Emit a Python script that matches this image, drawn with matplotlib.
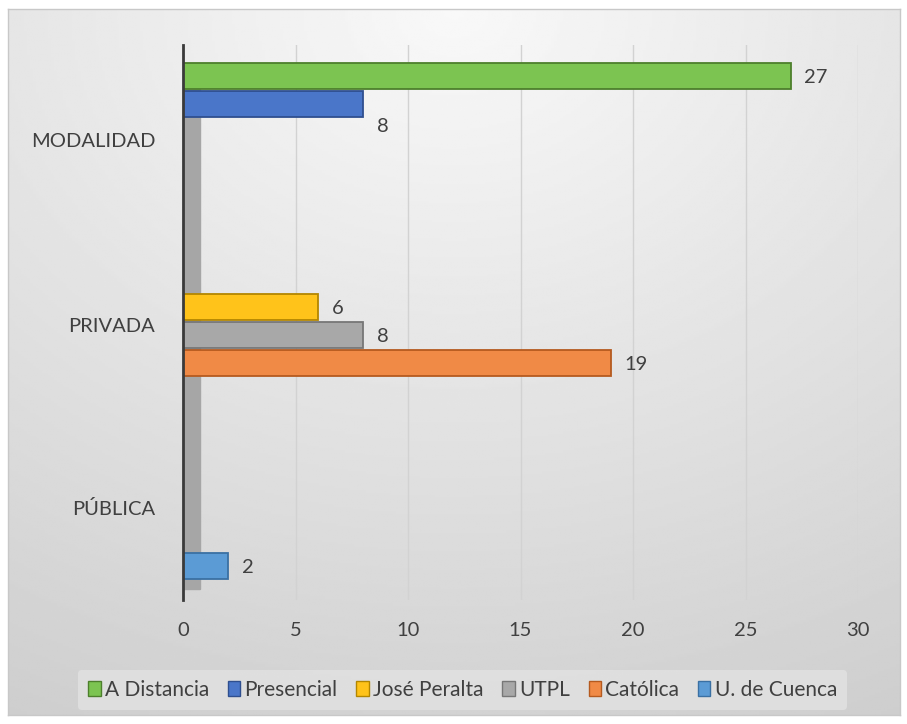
import numpy as np
import matplotlib.pyplot as plt
import matplotlib.transforms as mtransforms
from matplotlib.patches import Patch

plt.rcParams['font.family'] = ['Lato', 'DejaVu Sans']

categories = ["PÚBLICA", "PRIVADA", "MODALIDAD"]
series = ["A Distancia", "Presencial", "José Peralta", "UTPL", "Católica", "U. de Cuenca"]
# value of each series and the category it belongs to
values = [27, 8, 6, 8, 19, 2]
series_cat = ["MODALIDAD", "MODALIDAD", "PRIVADA", "PRIVADA", "PRIVADA", "PÚBLICA"]
colors = ["#7cc451", "#4a76c9", "#ffc31a", "#a8a8a8", "#f08a46", "#5b9bd5"]
edges = ["#4d7f2c", "#2f4f8f", "#b38600", "#777777", "#b55a1f", "#3a70a3"]
xticks = [0, 5, 10, 15, 20, 25, 30]

fig = plt.figure(figsize=(9.07, 7.24), dpi=100)

# gradient background of the chart area
bg = fig.add_axes([0.009, 0.012, 0.983, 0.975])
gx, gy = np.meshgrid(np.linspace(0, 1, 300), np.linspace(0, 1, 300))
dist = np.sqrt((gx - 0.5) ** 2 + gy ** 2)
bg.imshow(0.975 - 0.15 * dist, cmap="gray", vmin=0, vmax=1, aspect="auto",
          extent=[0, 1, 0, 1], origin="upper")
bg.set_xticks([])
bg.set_yticks([])
for s in bg.spines.values():
    s.set_color("#c8c8c8")
    s.set_linewidth(1)

ax = fig.add_axes([0.2018, 0.1713, 0.7442, 0.7665])
ax.patch.set_alpha(0)

n = len(series)
slot = 0.16
for i, (name, v, cat) in enumerate(zip(series, values, series_cat)):
    c = categories.index(cat)
    y = c + (n - 1) / 2 * slot - i * slot
    ax.barh(y, v, height=slot * 0.95, color=colors[i], edgecolor=edges[i],
            linewidth=1.3, zorder=3)
    ax.annotate(str(v), (v, y), xytext=(10, -1 if i != 1 else -16),
                textcoords="offset points", va="center", ha="left",
                fontsize=14.5, color="#404040", zorder=4)

# side wall of the 3D plot
ax.axvspan(0, 0.75, ymin=0.02, ymax=0.95, color="#a6a6a6", zorder=2)

ax.set_xlim(0, 30)
ax.set_ylim(-0.594, 2.577)
ax.set_xticks(xticks)
ax.set_yticks(range(len(categories)))
ax.set_yticklabels(categories)
ax.tick_params(length=0, labelsize=14.5, labelcolor="#404040")
ax.tick_params(axis="x", pad=16)
ax.tick_params(axis="y", pad=20)
# category labels sit a little off the bar groups in the 3D original
for lab, dy in zip(ax.get_yticklabels(), [-8, -3, 4]):
    lab.set_transform(lab.get_transform() +
                      mtransforms.ScaledTranslation(0, dy / 72, fig.dpi_scale_trans))
ax.grid(axis="x", color="#d2d2d2", linewidth=1, zorder=1)
for s in ["top", "right", "bottom"]:
    ax.spines[s].set_visible(False)
ax.spines["left"].set_color("#3a3a3a")
ax.spines["left"].set_linewidth(2)
ax.spines["left"].set_zorder(5)

handles = [Patch(facecolor=colors[i], edgecolor=edges[i], label=series[i]) for i in range(n)]
leg = fig.legend(handles=handles, loc="center", bbox_to_anchor=(0.51, 0.047), ncol=n,
                 fontsize=15, frameon=True, handlelength=0.6, handleheight=0.7,
                 handletextpad=0.2, columnspacing=0.9, borderpad=0.5)
leg.get_frame().set_facecolor("#e2e2e2")
leg.get_frame().set_edgecolor("none")
leg.get_frame().set_alpha(0.8)
for t in leg.get_texts():
    t.set_color("#404040")

fig.savefig("out.png", dpi=100)
